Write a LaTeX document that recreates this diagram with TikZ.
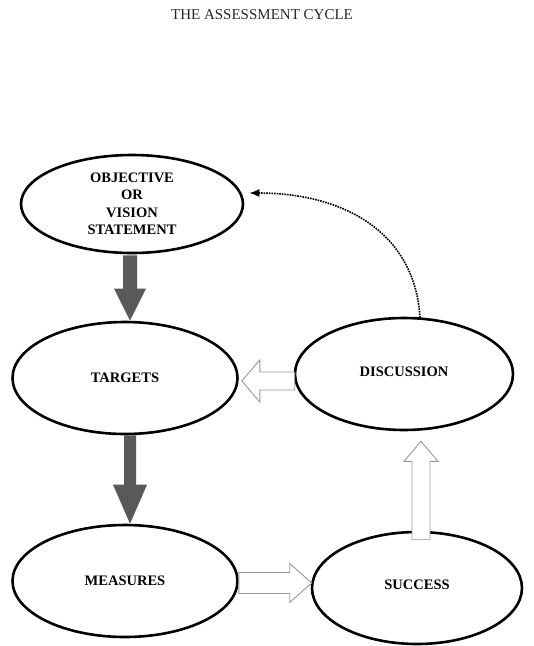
\documentclass[tikz,border=0pt]{standalone}
\usepackage{fontspec}
\setmainfont{Liberation Serif}
\usetikzlibrary{shapes.geometric,calc,arrows.meta}
\tikzset{
  stage/.style={ellipse, draw=black, line width=2.6pt, fill=white, inner sep=0pt,
    align=center, font=\fontsize{14.5}{17.5}\selectfont\bfseries},
  hollowarrowstyle/.style={draw=gray!80, line width=0.9pt, fill=white, line join=miter},
  solidarrowstyle/.style={fill=black!65, draw=none},
  feedback/.style={densely dotted, line width=1.6pt, -{Latex[length=10pt,width=8pt]}},
}
% #1 style, #2 start, #3 tip, #4 shaft half width, #5 head half width, #6 head length
\newcommand\blockarrow[6]{%
  \path[#1] let \p1=(#2), \p2=(#3), \n1={atan2(\y2-\y1,\x2-\x1)} in
    ($(\p1)+(\n1+90:#4)$) --
    ($(\p2)+(\n1+180:#6)+(\n1+90:#4)$) --
    ($(\p2)+(\n1+180:#6)+(\n1+90:#5)$) --
    (\p2) --
    ($(\p2)+(\n1+180:#6)+(\n1-90:#5)$) --
    ($(\p2)+(\n1+180:#6)+(\n1-90:#4)$) --
    ($(\p1)+(\n1-90:#4)$) -- cycle;%
}
\begin{document}
\begin{tikzpicture}[x=1pt,y=-1pt]
\useasboundingbox (0,0) rectangle (534,646);
\node[text=black!85] (title) at (262,15) {\fontsize{15}{18}\selectfont THE ASSESSMENT CYCLE};

\node[stage, minimum width=222pt, minimum height=98pt] (obj) at (132,204)
  {OBJECTIVE\\OR\\VISION\\STATEMENT};
\node[stage, minimum width=225pt, minimum height=112pt] (tgt) at (125,378) {\raisebox{-5pt}{TARGETS}};
\node[stage, minimum width=218pt, minimum height=112pt] (disc) at (404,374) {\raisebox{4pt}{DISCUSSION}};
\node[stage, minimum width=225pt, minimum height=112pt] (meas) at (125,581) {MEASURES};
\node[stage, minimum width=210pt, minimum height=112pt] (succ) at (417,588) {\raisebox{6pt}{SUCCESS}};

% solid down arrows
\coordinate (s1) at ($(obj.south)+(-2,1)$);
\coordinate (e1) at ($(tgt.north)+(5,0)$);
\blockarrow{solidarrowstyle}{s1}{e1}{7pt}{16pt}{32pt}
\coordinate (s2) at ($(tgt.south)+(5,0)$);
\coordinate (e2) at ($(meas.north)+(5,0)$);
\blockarrow{solidarrowstyle}{s2}{e2}{6pt}{17pt}{39pt}

% hollow arrows
\coordinate (s3) at ($(meas.east)+(0,2)$);
\coordinate (e3) at ($(succ.west)+(1,-5)$);
\blockarrow{hollowarrowstyle}{s3}{e3}{10.5pt}{19.5pt}{22pt}
\coordinate (s4) at ($(succ.north)+(4,9)$);
\coordinate (e4) at ($(disc.south)+(17,10)$);
\blockarrow{hollowarrowstyle}{s4}{e4}{9pt}{17pt}{20pt}
\coordinate (s5) at ($(disc.west)+(1,7)$);
\coordinate (e5) at ($(tgt.east)+(3,3)$);
\blockarrow{hollowarrowstyle}{s5}{e5}{9pt}{21pt}{18pt}

% feedback
\coordinate (f1) at ($(disc.north)+(16,1)$);
\coordinate (f2) at ($(obj.east)+(5,-11)$);
\draw[feedback] (f1) .. controls ($(f1)+(-5,-85)$) and ($(f2)+(95,0)$) .. (f2);
\end{tikzpicture}
\end{document}
